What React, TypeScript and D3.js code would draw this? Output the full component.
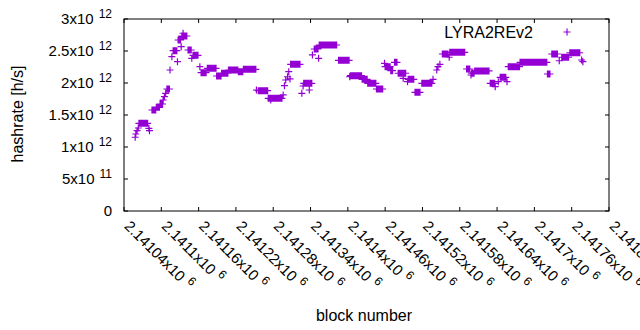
import React from 'react';
import * as d3 from 'd3';

// ---- data (runs of blocks with a constant hashrate estimate) ----
const BASE_BLOCK = 2141040;
const runStart = [
  18, 19, 21, 23, 24, 40, 41, 45, 52, 58, 63, 65, 67, 69, 74, 77, 79, 86, 87, 92,
  93, 95, 103, 109, 111, 122, 124, 134, 149, 157, 168, 184, 192, 213, 216, 232, 236, 237, 256, 258,
  260, 263, 265, 267, 268, 286, 288, 289, 298, 299, 303, 306, 313, 314, 345, 363, 364, 383, 392, 406,
  419, 420, 429, 435, 441, 449, 450, 456, 457, 468, 479, 497, 503, 505, 508, 512, 523, 524, 551, 558,
  559, 564, 589, 597, 602, 605, 616, 618, 637, 681, 688, 700, 704, 717, 736, 738,
];
const runEnd = [
  18, 19, 21, 23, 38, 40, 41, 51, 57, 62, 63, 65, 67, 73, 74, 77, 85, 86, 91, 92,
  101, 95, 108, 109, 119, 122, 132, 148, 156, 167, 183, 191, 212, 213, 231, 235, 236, 254, 256, 258,
  260, 263, 265, 267, 283, 286, 288, 297, 298, 302, 303, 312, 313, 342, 362, 363, 382, 391, 405, 416,
  419, 428, 432, 439, 448, 449, 453, 456, 466, 476, 495, 497, 503, 505, 508, 521, 523, 548, 556, 558,
  563, 587, 596, 597, 602, 614, 616, 636, 680, 685, 697, 700, 715, 733, 736, 738,
];
const runHashrate = [
  1.152, 1.203, 1.255, 1.297, 1.370, 1.292, 1.255, 1.578, 1.620, 1.672, 1.734, 1.786, 1.839, 1.906, 2.203, 2.411, 2.505, 2.333, 2.672, 2.567,
  2.734, 2.777, 2.516, 2.386, 2.433, 2.255, 2.161, 2.230, 2.109, 2.152, 2.203, 2.177, 2.214, 1.891, 1.880, 1.761, 1.734, 1.761, 1.813, 1.958,
  2.047, 2.098, 2.177, 2.063, 2.292, 1.839, 1.953, 1.995, 1.891, 1.995, 2.438, 2.531, 2.386, 2.594, 2.355, 2.098, 2.114, 2.058, 1.995, 1.906,
  2.308, 2.255, 2.192, 2.323, 2.152, 2.073, 2.152, 2.020, 2.058, 1.855, 1.995, 2.058, 2.203, 2.255, 2.292, 2.453, 2.402, 2.480, 2.219, 2.125,
  2.152, 2.188, 1.995, 1.942, 2.020, 2.089, 2.020, 2.255, 2.323, 2.141, 2.453, 2.348, 2.402, 2.473, 2.359, 2.333,
].map((v) => v * 1e12);

const xTickValues = [
  2141040, 2141100, 2141160, 2141220, 2141280, 2141340, 2141400,
  2141460, 2141520, 2141580, 2141640, 2141700, 2141760, 2141820,
];
const yTickValues = [0, 5e11, 1e12, 1.5e12, 2e12, 2.5e12, 3e12];
const seriesName = 'LYRA2REv2';

// ---- layout ----
const W = 640;
const H = 330;
const L = 124, R = 609, T = 19, B = 211;
const FONT = '"Liberation Sans", Arial, Helvetica, sans-serif';
const COLOR = '#9400d3';
const FS = 15;
const TFS = 16;
const SFS = 12;

function mantExp(v: number): [string, number] {
  const e = Math.floor(Math.log10(v) + 1e-9);
  const m = parseFloat((v / Math.pow(10, e)).toFixed(6));
  return [String(m), e];
}

export default function App() {
  const x = d3.scaleLinear().domain([2141040, 2141820]).range([L, R]);
  const y = d3.scaleLinear().domain([0, 3e12]).range([B, T]);

  const pts: [number, number][] = [];
  runStart.forEach((s, i) => {
    for (let b = s; b <= runEnd[i]; b++) pts.push([BASE_BLOCK + b, runHashrate[i]]);
  });
  const a = 3.5;
  const markerPath = pts
    .map(([bx, v]) => {
      const px = x(bx), py = y(v);
      return `M${px - a},${py}H${px + a}M${px},${py - a}V${py + a}`;
    })
    .join('');

  const tick = 4;
  const legendX = 567, legendY = 32;

  return (
    <svg width={W} height={H} style={{ position: 'absolute', left: 0, top: 0, background: '#fff' }}
      fontFamily={FONT}>
      <rect x={0} y={0} width={W} height={H} fill="#fff" />
      {/* ticks */}
      {yTickValues.map((v) => (
        <g key={'yt' + v}>
          <line x1={L} x2={L + tick} y1={y(v)} y2={y(v)} stroke="#000" />
          <line x1={R} x2={R - tick} y1={y(v)} y2={y(v)} stroke="#000" />
        </g>
      ))}
      {xTickValues.map((v) => (
        <g key={'xt' + v}>
          <line x1={x(v)} x2={x(v)} y1={B} y2={B - tick} stroke="#000" />
          <line x1={x(v)} x2={x(v)} y1={T} y2={T + tick} stroke="#000" />
        </g>
      ))}
      {/* y labels */}
      {yTickValues.map((v) => {
        if (v === 0)
          return (
            <text key={'yl' + v} x={112} y={y(v) + 5} textAnchor="end" fontSize={FS} fill="#000">0</text>
          );
        const [m, e] = mantExp(v);
        return (
          <text key={'yl' + v} x={112} y={y(v) + 5} textAnchor="end" fontSize={FS} fill="#000">
            {m}x10
            <tspan dx={5} dy={-6} fontSize={SFS}>{e}</tspan>
          </text>
        );
      })}
      {/* x labels */}
      {xTickValues.map((v) => {
        const m = parseFloat((v / 1e6).toFixed(6));
        return (
          <text key={'xl' + v} transform={`translate(${x(v) - 0.5},227) rotate(45)`} fontSize={FS} fill="#000">
            {String(m)}x10
            <tspan dx={5} dy={-6} fontSize={SFS}>6</tspan>
          </text>
        );
      })}
      {/* data */}
      <path d={markerPath} stroke={COLOR} strokeWidth={1.2} fill="none" />
      {/* border */}
      <rect x={L} y={T} width={R - L} height={B - T} fill="none" stroke="#000" strokeWidth={1} />
      {/* legend */}
      <text x={533} y={legendY + 6} textAnchor="end" fontSize={TFS} fill="#000">{seriesName}</text>
      <path d={`M${legendX - a},${legendY}H${legendX + a}M${legendX},${legendY - a}V${legendY + a}`}
        stroke={COLOR} strokeWidth={1.2} fill="none" />
      {/* axis titles */}
      <text transform={`translate(23,114) rotate(-90)`} textAnchor="middle" fontSize={TFS} fill="#000">hashrate [h/s]</text>
      <text x={364} y={321} textAnchor="middle" fontSize={TFS} fill="#000">block number</text>
    </svg>
  );
}
